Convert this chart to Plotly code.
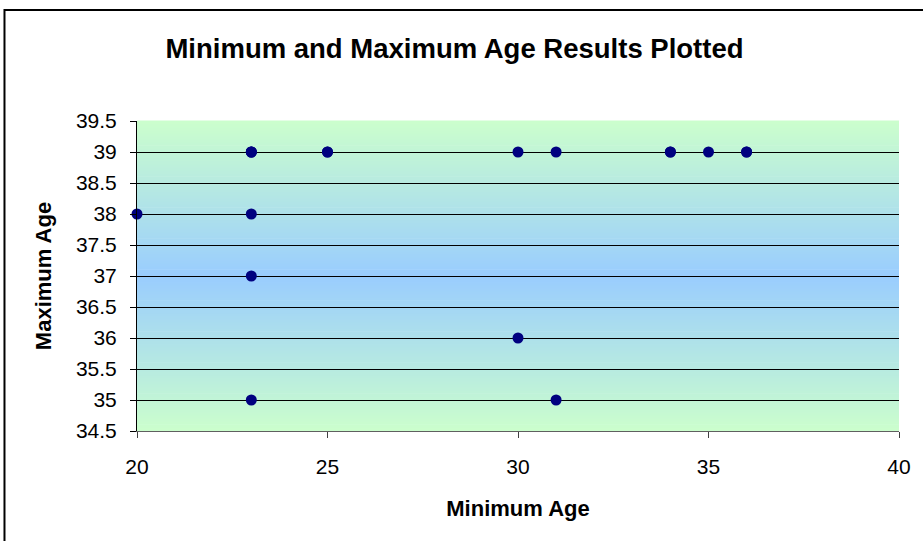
import plotly.graph_objects as go

# Data
min_age = [23, 23, 23, 25, 25, 30, 31, 34, 34, 35, 36, 36, 20, 23, 23, 30, 23, 31]
max_age = [39, 39, 39, 39, 39, 39, 39, 39, 39, 39, 39, 39, 38, 38, 37, 36, 35, 35]

title_text = "Minimum and Maximum Age Results Plotted"
x_title = "Minimum Age"
y_title = "Maximum Age"
x_ticks = [20, 25, 30, 35, 40]
y_ticks = [34.5, 35, 35.5, 36, 36.5, 37, 37.5, 38, 38.5, 39, 39.5]

FONT = "Liberation Sans, Arial, sans-serif"

fig = go.Figure()
fig.add_trace(go.Scatter(
    x=min_age, y=max_age, mode="markers",
    marker=dict(color="#000080", size=11, line=dict(width=0)),
    showlegend=False, cliponaxis=False, hoverinfo="x+y",
))

# gradient background: green at top/bottom, blue in the middle
shapes = []
n = 100
c_edge = (204, 255, 204)
c_mid = (153, 204, 255)
for i in range(n):
    t = (i + 0.5) / n
    f = 1 - abs(t - 0.5) * 2  # 0 at edges, 1 at middle
    col = tuple(round(c_edge[k] + (c_mid[k] - c_edge[k]) * f) for k in range(3))
    shapes.append(dict(
        type="rect", xref="x domain", yref="y domain",
        x0=0, x1=1, y0=i / n, y1=(i + 1) / n + 0.002,
        fillcolor="rgb(%d,%d,%d)" % col, line=dict(width=0), layer="below",
    ))

# outer chart border
shapes.append(dict(
    type="rect", xref="paper", yref="paper",
    x0=-0.1739, x1=1.2, y0=-0.5, y1=1.358,
    line=dict(color="black", width=2), fillcolor="rgba(0,0,0,0)", layer="above",
))

fig.update_layout(
    width=923, height=541,
    margin=dict(l=137, r=21, t=121, b=110),
    paper_bgcolor="white", plot_bgcolor="white",
    font=dict(family=FONT, size=21, color="black"),
    title=dict(text="<b>%s</b>" % title_text, x=0.4924, xanchor="center",
               y=0.911, yanchor="middle", font=dict(size=27.5, family=FONT)),
    shapes=shapes,
    xaxis=dict(
        range=[20, 40], tickvals=x_ticks, ticks="outside", ticklen=6,
        tickcolor="#404040", showgrid=False, zeroline=False,
        showline=True, linecolor="#606060", linewidth=1,
        tickfont=dict(size=21), ticklabelstandoff=11,
        title=dict(text="<b>%s</b>" % x_title, font=dict(size=22), standoff=23),
    ),
    yaxis=dict(
        range=[34.5, 39.5], tickvals=y_ticks, ticktext=[("%g" % v) for v in y_ticks],
        ticks="outside", ticklen=6, tickcolor="black",
        showgrid=True, gridcolor="black", gridwidth=1, zeroline=False,
        showline=True, linecolor="black", linewidth=1,
        tickfont=dict(size=21), ticklabelstandoff=9,
        title=dict(text="<b>%s</b>" % y_title, font=dict(size=22), standoff=18),
    ),
)

fig.write_html("out.html", config={"displayModeBar": False},
               post_script="document.body.style.margin='0px';")
